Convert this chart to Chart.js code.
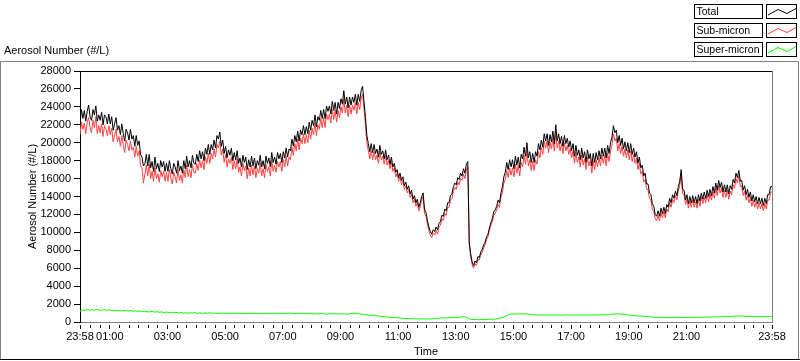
<!DOCTYPE html>
<html>
<head>
<meta charset="utf-8">
<title>Aerosol Number</title>
<script src="https://cdn.jsdelivr.net/npm/chart.js@4.4.1/dist/chart.umd.min.js"></script>
<style>
  html, body { margin: 0; padding: 0; background: #fff; }
  #wrap { width: 800px; height: 361px; }
</style>
</head>
<body>
<div id="wrap"><canvas id="aerosol" width="800" height="361"></canvas></div>
<script>
// Total and Sub-micron read every 3 minutes, Super-micron every 5 minutes,
// from 23:58 to 23:58 the next day (one row per hour)
var mainStepMinutes = 3;
var superStepMinutes = 5;

var total = [
  22200, 23700, 22700, 23600, 22400, 23500, 24200, 22900, 22500, 23700, 23100, 24100, 22400, 23100, 22500, 23400, 22000, 23100, 22900, 22100,
  23200, 22100, 22900, 21400, 22100, 22800, 21400, 21900, 20900, 22100, 21000, 20200, 21500, 21100, 20300, 21500, 20400, 20800, 19600, 20800,
  19700, 20200, 18700, 18400, 17400, 17600, 18700, 17400, 18700, 17200, 17900, 16800, 18400, 17100, 17700, 16800, 18000, 17300, 17900, 16800,
  17700, 16800, 18000, 17100, 16500, 17700, 17300, 16600, 18000, 16900, 17400, 16600, 18000, 17100, 18500, 17300, 18000, 17200, 18600, 17700,
  17600, 18700, 17900, 19100, 18200, 19000, 18000, 19400, 18700, 19800, 18700, 19800, 19200, 20300, 19400, 20800, 20400, 21200, 19600, 20300,
  18800, 19600, 18300, 19200, 18600, 19400, 18000, 18900, 18100, 19100, 17700, 18300, 17300, 18600, 17800, 18400, 17000, 18100, 17300, 18500,
  17400, 18300, 17100, 18000, 17500, 18600, 17300, 18000, 17100, 18500, 17700, 18300, 17300, 18900, 17800, 18400, 17600, 18900, 18200, 18800,
  17800, 19000, 18300, 19400, 18400, 19300, 19100, 20400, 19600, 20800, 20100, 21300, 20200, 21400, 20900, 21900, 20900, 21800, 21000, 22300,
  21400, 22500, 21900, 23100, 21800, 22900, 22500, 23600, 22700, 23700, 22700, 24100, 23500, 24100, 23200, 24600, 23600, 24500, 23200, 24500,
  23800, 24900, 24300, 25800, 24300, 25100, 23900, 25100, 24200, 25100, 24500, 25400, 24200, 25400, 24600, 25800, 26300, 24600, 22800, 20800,
  19900, 19000, 19900, 18900, 19800, 18800, 19300, 18400, 19700, 18700, 19100, 18200, 19200, 18100, 18600, 17600, 18400, 17300, 17700, 16700,
  17000, 16100, 16600, 15800, 16200, 15200, 15600, 14800, 15200, 14300, 14700, 13700, 14100, 13300, 13700, 12800, 13300, 14000, 14400, 12500,
  12200, 11300, 10600, 10100, 9800, 10300, 10100, 10600, 10300, 11000, 11200, 11900, 11800, 12600, 12400, 13300, 13300, 14100, 14300, 15100,
  15500, 15300, 16100, 15900, 16600, 16300, 17100, 16600, 17600, 17900, 8900, 7600, 6700, 6300, 6800, 6600, 7300, 7200, 7800, 8100,
  8600, 8900, 9500, 9800, 10500, 11100, 11500, 12300, 12500, 12900, 13600, 13300, 14400, 15100, 16200, 16700, 17800, 17000, 18100, 17300,
  18100, 17100, 18500, 17500, 18400, 17200, 18700, 18200, 19500, 18500, 20000, 18300, 19000, 17800, 18800, 17800, 19000, 18500, 19900, 19200,
  20300, 19500, 21000, 20200, 21000, 19700, 20900, 20100, 21300, 19900, 22000, 20200, 21000, 19900, 20700, 19600, 20800, 19900, 20500, 19500,
  20200, 19100, 19900, 18500, 19700, 18600, 19200, 18100, 19400, 18300, 19000, 17800, 19200, 18200, 18800, 17400, 18800, 17800, 18900, 18100,
  19100, 18200, 19400, 18500, 19400, 18300, 19700, 18800, 20000, 20600, 21900, 21100, 21400, 20000, 20800, 19700, 20500, 19300, 20100, 19100,
  20000, 18900, 19900, 18700, 19400, 18400, 19000, 17700, 18400, 17200, 17500, 16300, 16600, 15400, 15400, 14400, 14200, 13200, 12900, 12000,
  11800, 12400, 11800, 12700, 12100, 12800, 12100, 13100, 12800, 13800, 13300, 14200, 13800, 14600, 14100, 15100, 15700, 17000, 14800, 14700,
  13600, 14200, 13200, 14000, 13300, 14100, 13300, 14000, 13200, 14200, 13500, 14400, 13700, 14500, 13800, 14700, 14000, 14800, 14100, 15100,
  14400, 15500, 14700, 15800, 15000, 15600, 14500, 15300, 14500, 15300, 14300, 15200, 14800, 15900, 15500, 16600, 16100, 16900, 15700, 15800,
  14700, 15200, 14200, 14800, 13900, 14500, 13500, 14200, 13400, 14000, 13200, 13900, 13200, 13800, 13000, 13800, 13200, 14200, 14200, 15100, 15100
];

var subMicron = [
  20900, 22300, 21500, 22200, 21000, 22300, 22800, 21700, 21100, 22500, 21700, 22900, 21000, 21900, 21100, 22100, 20700, 21900, 21500, 20800,
  21900, 20900, 21600, 20100, 20900, 21500, 20100, 20700, 19600, 20800, 19800, 18900, 20300, 19800, 19100, 20200, 19200, 19500, 18400, 19600,
  18500, 19100, 17500, 17200, 15500, 16500, 17500, 16300, 17600, 16000, 16800, 15700, 17200, 16000, 16500, 15600, 16900, 16200, 16800, 15700,
  16700, 15700, 17000, 16000, 15400, 16700, 16200, 15500, 17000, 15800, 16400, 15500, 17000, 16100, 17500, 16200, 17000, 16100, 17600, 16700,
  16600, 17700, 16900, 18100, 17200, 18000, 17000, 18400, 17700, 18800, 17700, 18800, 18200, 19300, 18400, 19800, 19400, 20200, 18600, 19300,
  17800, 18700, 17300, 18200, 17700, 18400, 17000, 18000, 17100, 18200, 16700, 17300, 16300, 17700, 16900, 17400, 16000, 17200, 16300, 17500,
  16400, 17400, 16100, 17100, 16600, 17700, 16300, 17100, 16100, 17600, 16800, 17300, 16300, 18000, 16800, 17500, 16700, 17900, 17300, 17900,
  16800, 18100, 17300, 18500, 17400, 18400, 18100, 19500, 18600, 19900, 19100, 20400, 19200, 20500, 19900, 21000, 19900, 20900, 20000, 21400,
  20400, 21600, 20900, 22200, 20800, 22000, 21500, 22700, 21700, 22800, 21700, 23200, 22600, 23200, 22200, 23700, 22600, 23600, 22300, 23600,
  22800, 24000, 23300, 24900, 23300, 24200, 22900, 24200, 23200, 24200, 23600, 24500, 23200, 24500, 23700, 24900, 25400, 23700, 22000, 20000,
  19100, 18200, 19100, 18100, 19000, 18100, 18600, 17700, 19000, 18100, 18500, 17600, 18600, 17500, 18000, 17100, 17900, 16800, 17200, 16200,
  16600, 15700, 16200, 15300, 15800, 14800, 15200, 14400, 14800, 13900, 14300, 13300, 13700, 12900, 13300, 12400, 12900, 13600, 14000, 12100,
  11800, 10900, 10200, 9700, 9400, 9900, 9700, 10200, 9800, 10600, 10800, 11500, 11300, 12100, 11900, 12800, 12800, 13600, 13800, 14600,
  15000, 14800, 15600, 15300, 16000, 15800, 16500, 16000, 17000, 17300, 8600, 7300, 6400, 6000, 6500, 6300, 7000, 6900, 7500, 7800,
  8300, 8600, 9200, 9500, 10200, 10800, 11200, 11900, 12100, 12500, 13100, 12800, 13900, 14500, 15500, 15900, 16900, 16100, 17200, 16400,
  17200, 16200, 17600, 16600, 17500, 16300, 17800, 17300, 18600, 17600, 19100, 17400, 18100, 16900, 17900, 16900, 18100, 17600, 19000, 18300,
  19500, 18700, 20200, 19400, 20200, 18900, 20100, 19300, 20500, 19100, 21200, 19400, 20200, 19100, 19900, 18800, 20000, 19100, 19700, 18700,
  19400, 18300, 19100, 17700, 18900, 17800, 18400, 17300, 18600, 17500, 18200, 17000, 18400, 17400, 18000, 16600, 18000, 17000, 18100, 17300,
  18300, 17400, 18600, 17700, 18600, 17400, 18800, 17900, 19100, 19700, 21000, 20200, 20500, 19100, 19900, 18800, 19600, 18500, 19300, 18300,
  19200, 18100, 19100, 17900, 18700, 17700, 18300, 17000, 17700, 16500, 16800, 15600, 15900, 14800, 14800, 13800, 13600, 12600, 12300, 11500,
  11300, 11900, 11300, 12200, 11600, 12300, 11600, 12600, 12300, 13300, 12800, 13700, 13300, 14100, 13600, 14600, 15200, 16500, 14300, 14200,
  13100, 13700, 12700, 13500, 12800, 13600, 12800, 13400, 12700, 13700, 12900, 13900, 13200, 13900, 13300, 14200, 13400, 14300, 13600, 14500,
  13800, 14900, 14100, 15200, 14400, 15000, 13900, 14700, 13900, 14700, 13700, 14600, 14200, 15300, 14900, 16000, 15500, 16300, 15100, 15200,
  14100, 14600, 13600, 14200, 13300, 13900, 12900, 13600, 12800, 13400, 12600, 13300, 12600, 13200, 12400, 13200, 12600, 13600, 13600, 14500, 14500
];

var superMicron = [
  1200, 1350, 1280, 1400, 1320, 1380, 1300, 1420, 1340, 1290, 1380, 1310,
  1360, 1280, 1340, 1250, 1310, 1230, 1300, 1260, 1220, 1290, 1200, 1250,
  1180, 1240, 1150, 1210, 1160, 1120, 1190, 1100, 1150, 1080, 1130, 1060,
  1110, 1040, 1090, 1020, 1070, 1010, 1060, 990, 1040, 980, 1030, 1000,
  1050, 970, 1020, 960, 1010, 980, 1040, 960, 1000, 950, 990, 970,
  1010, 940, 990, 920, 970, 950, 1000, 930, 980, 910, 960, 940,
  990, 920, 970, 900, 950, 930, 980, 910, 960, 900, 950, 920,
  970, 910, 950, 1010, 940, 900, 960, 920, 980, 910, 950, 930,
  970, 900, 940, 880, 930, 960, 910, 870, 930, 900, 950, 890,
  930, 880, 920, 860, 910, 950, 890, 1000, 920, 880, 850, 800,
  780, 740, 700, 720, 660, 640, 600, 580, 540, 520, 500, 480,
  470, 440, 420, 400, 390, 370, 380, 350, 360, 340, 360, 330,
  340, 350, 330, 360, 380, 420, 440, 470, 450, 460, 480, 470,
  500, 520, 540, 560, 570, 540, 330, 290, 260, 280, 250, 280,
  270, 300, 290, 310, 300, 330, 420, 470, 520, 640, 760, 870,
  900, 880, 920, 900, 930, 890, 910, 860, 840, 800, 790, 780,
  800, 770, 790, 760, 800, 780, 770, 800, 760, 790, 770, 800,
  770, 790, 760, 800, 780, 770, 810, 780, 760, 790, 780, 800,
  780, 810, 790, 800, 830, 870, 900, 880, 910, 890, 860, 830,
  800, 760, 740, 700, 680, 660, 670, 640, 600, 580, 560, 540,
  530, 500, 520, 490, 510, 480, 500, 530, 490, 520, 500, 510,
  490, 520, 500, 530, 510, 540, 520, 550, 530, 560, 540, 570,
  550, 580, 560, 600, 580, 620, 600, 650, 640, 670, 650, 680,
  660, 640, 620, 600, 620, 590, 610, 580, 600, 620, 590, 610, 630
];

var seriesNames = ['Total', 'Sub-micron', 'Super-micron'];
var seriesColors = ['#000000', '#ff4040', '#00ff00'];

// x axis: minutes since 23:58
var majorTickMinutes = [0, 62, 182, 302, 422, 542, 662, 782, 902, 1022, 1142, 1262, 1382, 1440];
var majorTickLabels = ['23:58', '01:00', '03:00', '05:00', '07:00', '09:00', '11:00', '13:00',
                       '15:00', '17:00', '19:00', '21:00', '', '23:58'];
var minorTickFirst = 22;
var minorTickStep = 20;
var xMax = 1440;

var yMax = 28000;
var yStep = 2000;

function toPoints(values, step) {
  return values.map(function (v, i) { return { x: i * step, y: v }; });
}

// grey/black frame, plot borders and the legend boxes top right
var framePlugin = {
  id: 'frame',
  beforeDraw: function (chart) {
    var ctx = chart.ctx;
    ctx.save();
    ctx.fillStyle = '#ffffff';
    ctx.fillRect(0, 0, chart.width, chart.height);
    ctx.restore();
  },
  afterDraw: function (chart) {
    var ctx = chart.ctx;
    var a = chart.chartArea;
    ctx.save();
    ctx.lineWidth = 1;

    // outer frame
    ctx.strokeStyle = '#808080';
    ctx.beginPath();
    ctx.moveTo(0.5, 360);
    ctx.lineTo(0.5, 61.5);
    ctx.lineTo(798.5, 61.5);
    ctx.lineTo(798.5, 360);
    ctx.stroke();
    ctx.strokeStyle = '#000000';
    ctx.beginPath();
    ctx.moveTo(0, 359.5);
    ctx.lineTo(800, 359.5);
    ctx.stroke();

    // plot box: black top, grey right
    ctx.beginPath();
    ctx.moveTo(Math.round(a.left), Math.round(a.top) + 0.5);
    ctx.lineTo(Math.round(a.right), Math.round(a.top) + 0.5);
    ctx.stroke();
    ctx.strokeStyle = '#808080';
    ctx.beginPath();
    ctx.moveTo(Math.round(a.right) + 0.5, Math.round(a.top));
    ctx.lineTo(Math.round(a.right) + 0.5, Math.round(a.bottom));
    ctx.stroke();

    // legend
    ctx.font = '10.5px "Liberation Sans", Arial, sans-serif';
    ctx.textBaseline = 'middle';
    ctx.textAlign = 'left';
    for (var i = 0; i < seriesNames.length; i++) {
      var top = 4.5 + i * 19;
      ctx.strokeStyle = '#000000';
      ctx.strokeRect(694.5, top, 68, 14);
      ctx.strokeRect(766.5, top, 30, 14);
      ctx.fillStyle = '#000000';
      ctx.fillText(seriesNames[i], 696.5, top + 7.5);
      ctx.strokeStyle = seriesColors[i];
      ctx.beginPath();
      ctx.moveTo(768, top + 10.5);
      ctx.lineTo(778, top + 5);
      ctx.lineTo(787, top + 9);
      ctx.lineTo(796, top + 4);
      ctx.stroke();
    }
    ctx.restore();
  }
};

Chart.defaults.font.family = '"Liberation Sans", Arial, sans-serif';
Chart.defaults.font.size = 11;
Chart.defaults.color = '#000000';

function isMajor(v) {
  return majorTickMinutes.indexOf(v) >= 0;
}

new Chart(document.getElementById('aerosol'), {
  type: 'line',
  data: {
    datasets: [
      { label: seriesNames[0], data: toPoints(total, mainStepMinutes), borderColor: seriesColors[0] },
      { label: seriesNames[1], data: toPoints(subMicron, mainStepMinutes), borderColor: seriesColors[1] },
      { label: seriesNames[2], data: toPoints(superMicron, superStepMinutes), borderColor: seriesColors[2] }
    ]
  },
  options: {
    responsive: false,
    devicePixelRatio: 1,
    animation: false,
    layout: { padding: { left: 4, right: 28, top: 0, bottom: 0 } },
    elements: {
      point: { radius: 0 },
      line: { borderWidth: 1, tension: 0 }
    },
    scales: {
      x: {
        type: 'linear',
        min: 0,
        max: xMax,
        afterBuildTicks: function (scale) {
          var ticks = [{ value: 0 }];
          for (var m = minorTickFirst; m < xMax; m += minorTickStep) {
            ticks.push({ value: m });
          }
          ticks.push({ value: xMax });
          scale.ticks = ticks;
        },
        afterFit: function (scale) { scale.height = 39; },
        ticks: {
          autoSkip: false,
          maxRotation: 0,
          padding: 1,
          callback: function (value) {
            var k = majorTickMinutes.indexOf(value);
            return k >= 0 ? majorTickLabels[k] : '';
          }
        },
        grid: {
          drawOnChartArea: false,
          tickLength: 7,
          tickColor: '#000000',
          tickBorderDash: function (ctx) {
            return isMajor(ctx.tick.value) ? [0, 2, 5, 30] : [0, 2, 3, 30];
          }
        },
        border: { display: true, color: '#808080' },
        title: {
          display: true,
          text: 'Time',
          font: { size: 11 },
          padding: { top: 0, bottom: 2 }
        }
      },
      y: {
        min: 0,
        max: yMax,
        afterFit: function (scale) { scale.width = 76; },
        ticks: {
          stepSize: yStep,
          autoSkip: false,
          padding: 3,
          callback: function (value) { return String(value); }
        },
        grid: {
          drawOnChartArea: false,
          tickLength: 6,
          tickColor: '#000000'
        },
        border: { display: true, color: '#000000' },
        title: {
          display: true,
          text: 'Aerosol Number (#/L)',
          font: { size: 11 },
          padding: { top: 22, bottom: 0 }
        }
      }
    },
    plugins: {
      legend: { display: false },
      tooltip: { enabled: false },
      title: {
        display: true,
        text: 'Aerosol Number (#/L)',
        align: 'start',
        color: '#000000',
        font: { size: 11, weight: 'normal' },
        padding: { top: 44, bottom: 13.8 }
      }
    }
  },
  plugins: [framePlugin]
});
</script>
</body>
</html>
